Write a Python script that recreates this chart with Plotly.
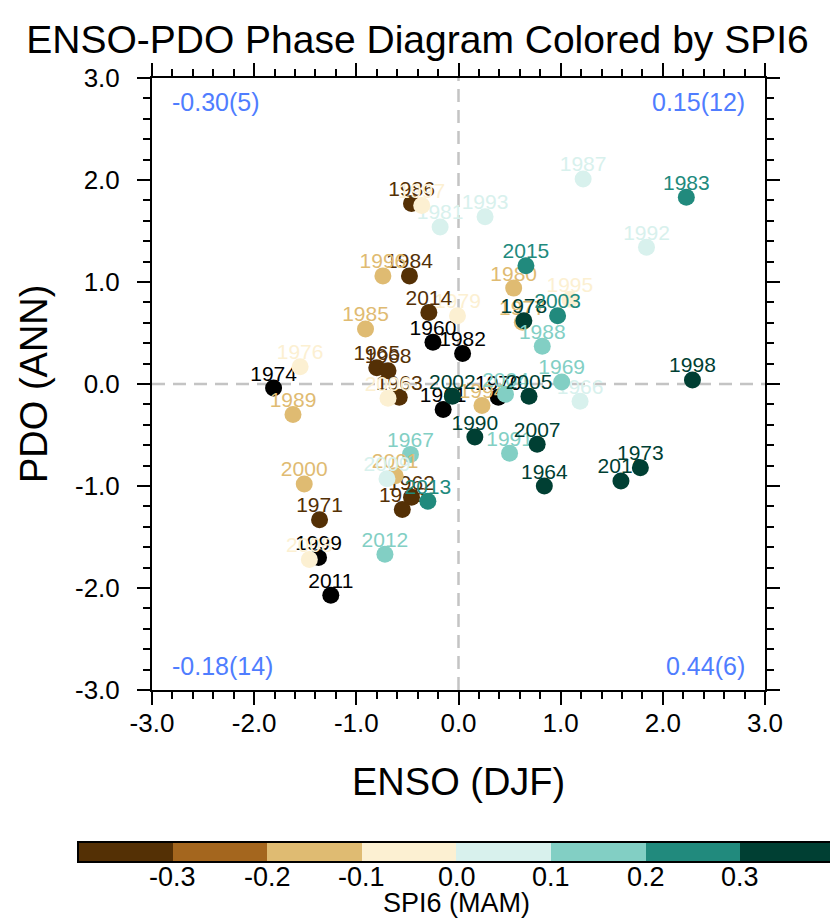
import plotly.graph_objects as go

# ---------------- data ----------------
years = [1960, 1961, 1962, 1963, 1964, 1965, 1966, 1967, 1968, 1969,
         1970, 1971, 1973, 1974, 1975, 1976, 1977, 1978, 1979, 1980, 1981,
         1982, 1983, 1984, 1985, 1986, 1987, 1988, 1989, 1990, 1991,
         1992, 1993, 1994, 1995, 1996, 1997, 1998, 1999, 2000, 2001,
         2002, 2003, 2004, 2005, 2006, 2007, 2008, 2009, 2010, 2011,
         2012, 2013, 2014, 2015]
enso = [-0.25, -0.15, -0.46, -0.58, 0.84, -0.80, 1.19, -0.47, -0.69, 1.01,
        0.39, -1.36, 1.78, -1.81, -0.55, -1.55, 0.625, 0.64, -0.01, 0.54, -0.18,
        0.04, 2.23, -0.48, -0.91, -0.46, 1.22, 0.82, -1.62, 0.16, 0.50,
        1.84, 0.26, 0.23, 1.09, -0.74, -0.36, 2.29, -1.37, -1.51, -0.62,
        -0.06, 0.97, 0.46, 0.69, -0.69, 0.77, -1.46, -0.70, 1.59, -1.25,
        -0.72, -0.30, -0.29, 0.66]
pdo = [0.41, -0.25, -1.11, -0.13, -1.00, 0.16, -0.17, -0.69, 0.13, 0.02,
       -0.13, -1.33, -0.82, -0.04, -1.23, 0.17, 0.605, 0.62, 0.67, 0.94, 1.54,
       0.30, 1.83, 1.06, 0.54, 1.77, 2.01, 0.37, -0.30, -0.52, -0.68,
       1.34, 1.64, -0.21, 0.83, 1.06, 1.75, 0.04, -1.70, -0.98, -0.90,
       -0.12, 0.67, -0.10, -0.12, -0.14, -0.59, -1.72, -0.93, -0.95, -2.07,
       -1.67, -1.15, 0.70, 1.16]
# SPI6 (MAM); None = no class colour (drawn black)
spi = [None, None, -0.35, -0.35, 0.35, -0.35, 0.05, 0.15, -0.35, 0.15,
       None, -0.35, 0.35, None, -0.35, -0.05, -0.15, 0.35, -0.05, -0.15, 0.05,
       None, 0.25, -0.35, -0.15, -0.35, 0.05, 0.15, -0.15, 0.35, 0.15,
       0.05, 0.05, -0.15, -0.05, -0.15, -0.05, 0.35, None, -0.15, -0.15,
       0.35, 0.25, 0.15, 0.35, -0.05, 0.35, -0.05, 0.05, 0.35, None,
       0.15, 0.25, -0.35, 0.25]

quad_labels = ["-0.30(5)", "0.15(12)", "-0.18(14)", "0.44(6)"]
quad_pos = [(-3, 3), (3, 3), (-3, -3), (3, -3)]

axis_ticks = [-3, -2, -1, 0, 1, 2, 3]
axis_ticktext = [f"{t:.1f}" for t in axis_ticks]

cb_levels = [-0.4, -0.3, -0.2, -0.1, 0.0, 0.1, 0.2, 0.3, 0.4]
cb_colors = ["#543005", "#a4661e", "#dfbb72", "#fcf0d2",
             "#d8f1ed", "#82cfc4", "#218a7d", "#003f33"]
cb_ticks = [-0.3, -0.2, -0.1, 0.0, 0.1, 0.2, 0.3]

FONT = "Liberation Sans, Arial, Helvetica, sans-serif"
LABEL_DY = 0.125  # label offset above marker, in axis units

# ---------------- geometry (figure px) ----------------
W, H = 830, 910
PL, PR, PT, PB = 144, 757, 70, 682          # plot area
PW, PH = PR - PL, PB - PT
CB_L, CB_R, CB_T = 70, 827, 834            # colour-bar box
CB_LEN = CB_R - CB_L


def px_to_paper_x(px):
    return (px - PL) / PW


def px_to_paper_y(py):
    return (PB - py) / PH


def spi_color(v):
    if v is None:
        return "#000000"
    for i in range(len(cb_colors)):
        if cb_levels[i] <= v < cb_levels[i + 1]:
            return cb_colors[i]
    return cb_colors[-1] if v >= cb_levels[-1] else cb_colors[0]


fig = go.Figure()

# zero lines
for shp in (dict(x0=0, x1=0, y0=-3, y1=3), dict(x0=-3, x1=3, y0=0, y1=0)):
    fig.add_shape(type="line", xref="x", yref="y", layer="below",
                  line=dict(color="#c4c4c4", width=2.5, dash="13px,8px"), **shp)

for yr, xv, yv, sv in zip(years, enso, pdo, spi):
    c = spi_color(sv)
    fig.add_trace(go.Scatter(
        x=[xv], y=[yv], mode="markers",
        marker=dict(size=17, color=c, line=dict(width=0)),
        showlegend=False, hoverinfo="skip", cliponaxis=False))
    fig.add_trace(go.Scatter(
        x=[xv], y=[yv + LABEL_DY], mode="text", text=[str(yr)],
        textposition="middle center",
        textfont=dict(family=FONT, size=21, color=c),
        showlegend=False, hoverinfo="skip", cliponaxis=False))

# colour bar (carrier trace)
cscale = []
n = len(cb_colors)
for i, c in enumerate(cb_colors):
    cscale.append([i / n, c])
    cscale.append([(i + 1) / n, c])
fig.add_trace(go.Scatter(
    x=[0], y=[0], mode="markers",
    marker=dict(size=1, opacity=0, color=[0], colorscale=cscale,
                cmin=cb_levels[0], cmax=cb_levels[-1], showscale=True,
                colorbar=dict(orientation="h", thickness=20, thicknessmode="pixels",
                              len=CB_LEN, lenmode="pixels",
                              x=px_to_paper_x((CB_L + CB_R) / 2), xanchor="center",
                              y=px_to_paper_y(CB_T), yanchor="top", xpad=0, ypad=0,
                              outlinewidth=2, outlinecolor="black",
                              showticklabels=False, ticks="")),
    showlegend=False, hoverinfo="skip"))

# colour-bar labels and title
for t in cb_ticks:
    px = CB_L + (t - cb_levels[0]) / (cb_levels[-1] - cb_levels[0]) * CB_LEN
    fig.add_annotation(x=px_to_paper_x(px), y=px_to_paper_y(869), xref="paper", yref="paper",
                       text=f"{t:.1f}", showarrow=False, xanchor="center", yanchor="middle",
                       font=dict(family=FONT, size=27, color="black"))
fig.add_annotation(x=px_to_paper_x((CB_L + CB_R) / 2), y=px_to_paper_y(895),
                   xref="paper", yref="paper", text="SPI6 (MAM)", showarrow=False,
                   xanchor="center", yanchor="middle",
                   font=dict(family=FONT, size=27, color="black"))

for txt, (qx, qy) in zip(quad_labels, quad_pos):
    fig.add_annotation(x=qx, y=qy, xref="x", yref="y", text=txt, showarrow=False,
                       xanchor="left" if qx < 0 else "right",
                       yanchor="top" if qy > 0 else "bottom",
                       xshift=18 if qx < 0 else -18, yshift=-8 if qy > 0 else 8,
                       font=dict(family=FONT, size=25, color="#4f7dff"))

# axis titles
fig.add_annotation(x=0.5, y=px_to_paper_y(774), xref="paper", yref="paper", text="ENSO (DJF)",
                   showarrow=False, xanchor="center", yanchor="middle",
                   font=dict(family=FONT, size=38, color="black"))
fig.add_annotation(x=px_to_paper_x(26), y=0.5, xref="paper", yref="paper", text="PDO (ANN)",
                   showarrow=False, xanchor="center", yanchor="middle", textangle=-90,
                   font=dict(family=FONT, size=38, color="black"))

axis_common = dict(range=[-3, 3], tickvals=axis_ticks, ticktext=axis_ticktext,
                   ticks="outside", ticklen=13, tickwidth=2, tickcolor="black",
                   showline=True, linewidth=2, linecolor="black", mirror="ticks",
                   showgrid=False, zeroline=False,
                   tickfont=dict(family=FONT, size=26, color="black"),
                   minor=dict(dtick=0.2, tick0=0, ticks="outside", ticklen=7, tickwidth=1.5,
                              tickcolor="black", showgrid=False))

fig.update_layout(
    width=W, height=H,
    margin=dict(l=PL, r=W - PR, t=PT, b=H - PB, autoexpand=False),
    paper_bgcolor="white", plot_bgcolor="white",
    title=dict(text="ENSO-PDO Phase Diagram Colored by SPI6", x=409.5 / W, xanchor="center",
               xref="container", y=1 - 31 / H, yanchor="middle", yref="container",
               font=dict(family=FONT, size=39, color="black")),
    xaxis=dict(**axis_common, ticklabelstandoff=-4),
    yaxis=dict(**axis_common, ticklabelstandoff=12),
)

fig.write_html("out.html")
